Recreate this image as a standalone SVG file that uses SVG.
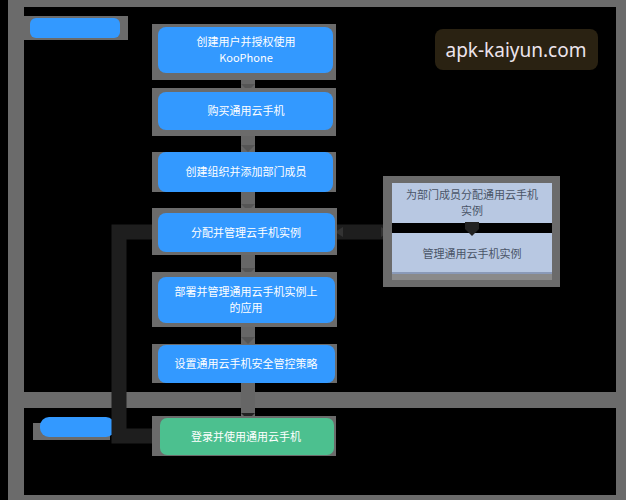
<svg xmlns="http://www.w3.org/2000/svg" width="626" height="500" viewBox="0 0 626 500">
<style>
.frame{fill:#6b6b6b}
.lane{fill:#000}
.shadow{fill:#6b6b6b}
.node{fill:#3399ff}
.green{fill:#4cc08f}
.nt{font-family:"Noto Sans CJK SC","Noto Sans",sans-serif;font-size:11px;fill:#ffffff;text-anchor:middle}
.st{font-family:"Noto Sans CJK SC","Noto Sans",sans-serif;font-size:11px;fill:#4a5568;text-anchor:middle}
.vc{stroke:#666;stroke-width:14;fill:none}
.dc{stroke:#1e1e1e;stroke-width:15;fill:none}
</style>
<rect x="0" y="0" width="626" height="500" fill="#000"/>
<rect class="frame" x="8" y="0" width="618" height="500"/>
<rect class="lane" x="24" y="7" width="592" height="385"/>
<rect class="lane" x="24" y="408" width="592" height="87"/>

<g id="lane1-label">
<rect x="24" y="16" width="104" height="24" fill="#6b6b6b"/>
<rect x="30" y="18" width="90" height="20" rx="6" fill="#3399ff"/>
</g>
<g id="lane2-label">
<rect x="33" y="423" width="77" height="17" fill="#6b6b6b"/>
<rect x="40" y="417" width="75" height="20" rx="9" fill="#3399ff"/>
</g>

<g id="watermark">
<rect x="435" y="29" width="163" height="41" rx="8" fill="#2a2212"/>
<text x="516" y="57" font-family="'Noto Sans','DejaVu Sans',sans-serif" font-size="19" fill="#ece4ec" text-anchor="middle">apk-kaiyun.com</text>
</g>

<g id="connectors">
<line class="vc" x1="248" y1="80" x2="248" y2="90"/>
<line class="vc" x1="248" y1="136" x2="248" y2="152"/>
<line class="vc" x1="248" y1="192" x2="248" y2="211"/>
<line class="vc" x1="248" y1="255" x2="248" y2="275"/>
<line class="vc" x1="248" y1="327" x2="248" y2="344"/>
<line class="vc" x1="248" y1="383" x2="248" y2="416" stroke="#3a3a3a"/>
<path class="dc" d="M158,232 L119,232 L119,436 L160,436"/>
<line class="dc" x1="336" y1="232" x2="388" y2="232"/>
<path d="M152,227 L160,232 L152,237 z" fill="#333"/>
<path d="M152,431 L160,436 L152,441 z" fill="#333"/>
<path d="M343,227 L335,232 L343,237 z" fill="#333"/>
<path d="M381,227 L389,232 L381,237 z" fill="#333"/>
<path d="M241,84 L248,91 L255,84 z" fill="#555"/>
<path d="M241,145 L248,152 L255,145 z" fill="#555"/>
<path d="M241,204 L248,211 L255,204 z" fill="#555"/>
<path d="M241,268 L248,275 L255,268 z" fill="#555"/>
<path d="M241,337 L248,344 L255,337 z" fill="#555"/>
<path d="M241,413 L248,420 L255,413 z" fill="#222"/>
</g>

<g id="n1">
<rect class="shadow" x="152" y="24" width="184" height="56"/>
<rect class="node" x="158" y="27" width="175" height="46" rx="8"/>
<text class="nt" x="246" y="46">创建用户并授权使用</text>
<text class="nt" x="246" y="62">KooPhone</text>
</g>
<g id="n2">
<rect class="shadow" x="152" y="88" width="184" height="48"/>
<rect class="node" x="158" y="92" width="175" height="38" rx="8"/>
<text class="nt" x="246" y="115">购买通用云手机</text>
</g>
<g id="n3">
<rect class="shadow" x="152" y="152" width="184" height="40"/>
<rect class="node" x="158" y="152" width="175" height="40" rx="8"/>
<text class="nt" x="246" y="176">创建组织并添加部门成员</text>
</g>
<g id="n4">
<rect class="shadow" x="152" y="208" width="185" height="47"/>
<rect class="node" x="158" y="213" width="177" height="39" rx="8"/>
<text class="nt" x="246" y="237">分配并管理云手机实例</text>
</g>
<g id="n5">
<rect class="shadow" x="152" y="272" width="185" height="55"/>
<rect class="node" x="158" y="277" width="177" height="46" rx="8"/>
<text class="nt" x="246" y="296">部署并管理通用云手机实例上</text>
<text class="nt" x="246" y="312">的应用</text>
</g>
<g id="n6">
<rect class="shadow" x="152" y="344" width="185" height="39"/>
<rect class="node" x="158" y="345" width="177" height="38" rx="8"/>
<text class="nt" x="246" y="368">设置通用云手机安全管控策略</text>
</g>
<g id="n7">
<rect class="shadow" x="152" y="416" width="184" height="40"/>
<rect class="green" x="160" y="418" width="174" height="37" rx="7"/>
<text class="nt" x="246" y="441">登录并使用通用云手机</text>
</g>

<g id="group-right">
<rect x="383" y="176" width="177" height="111" fill="#6b6b6b"/>
<rect x="392" y="183" width="160" height="40" fill="#b8c8e2"/>
<rect x="392" y="223" width="160" height="10" fill="#000"/>
<rect x="392" y="233" width="160" height="39" fill="#b8c8e2"/>
<rect x="392" y="272" width="160" height="2" fill="#8a9ab8"/>
<rect x="392" y="274" width="160" height="6" fill="#8a8a8a"/>
<text class="st" x="472" y="199">为部门成员分配通用云手机</text>
<text class="st" x="472" y="215">实例</text>
<text class="st" x="472" y="258">管理通用云手机实例</text>
<path d="M465,222 L479,222 L479,229 L472,236 L465,229 z" fill="#222"/>
</g>
</svg>
